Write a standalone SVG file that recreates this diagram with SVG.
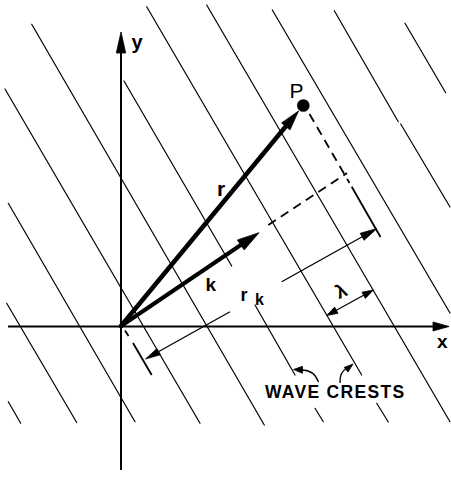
<svg xmlns="http://www.w3.org/2000/svg" width="451" height="477" viewBox="0 0 451 477">
<style>
.crest{stroke:#000;stroke-width:1.2;fill:none;stroke-linecap:round}
.axis{stroke:#000;stroke-width:2;fill:none}
.vec{stroke:#000;fill:none;stroke-linecap:round}
.dim{stroke:#000;stroke-width:1.3;fill:none}
.ext{stroke:#000;stroke-width:1.8;fill:none}
.dash{stroke:#000;stroke-width:1.8;fill:none;stroke-dasharray:9 6}
.head{fill:#000;stroke:#000;stroke-width:0.8;stroke-linejoin:round}
.lbl{font-family:"Liberation Sans",Arial,sans-serif;fill:#000}
.b{font-weight:bold}
</style>
<rect width="451" height="477" fill="#fff"/>
<g id="wave-crests">
<line class="crest" x1="8.3" y1="401.7" x2="20.7" y2="423.3"/>
<line class="crest" x1="6.7" y1="303.3" x2="76.7" y2="422.5"/>
<line class="crest" x1="8.3" y1="203.3" x2="135" y2="421.7"/>
<line class="crest" x1="5" y1="89" x2="200" y2="423.3"/>
<line class="crest" x1="31.7" y1="24.3" x2="264.3" y2="425"/>
<line class="crest" x1="124" y1="81" x2="231.7" y2="266"/>
<line class="crest" x1="255" y1="305" x2="295" y2="375"/>
<line class="crest" x1="315" y1="408.3" x2="323.3" y2="421.7"/>
<line class="crest" x1="146.7" y1="6.7" x2="361.7" y2="375"/>
<line class="crest" x1="376.7" y1="403.3" x2="388.3" y2="422"/>
<line class="crest" x1="206.7" y1="5" x2="450" y2="421.7"/>
<line class="crest" x1="272.3" y1="10" x2="450" y2="313"/>
<line class="crest" x1="334.3" y1="10.7" x2="398.3" y2="121.7"/>
<line class="crest" x1="400.7" y1="124" x2="450" y2="207"/>
<line class="crest" x1="405" y1="23.3" x2="445.7" y2="92.7"/>
</g>
<g id="axes">
<line class="axis" x1="8" y1="326.5" x2="436" y2="326.5"/>
<polygon class="head" points="449,326.5 433,322 433,331"/>
<line class="axis" x1="121" y1="470" x2="121" y2="50"/>
<polygon class="head" points="121,32 116.3,53 125.7,53"/>
<text class="lbl b" x="437" y="347.5" font-size="19">x</text>
<text class="lbl b" x="131.5" y="49" font-size="20">y</text>
</g>
<g id="connectors">
<g id="vector-r">
<line class="vec" x1="121" y1="326" x2="286.5" y2="125.5" stroke-width="4.5"/>
<polygon class="head" points="298.5,111 290,129.9 281.6,122.9"/>
</g>
<g id="vector-k">
<line class="vec" x1="121" y1="326" x2="241.5" y2="244.5" stroke-width="4"/>
<polygon class="head" points="259,232.7 244.2,250 237.4,240"/>
</g>
<g id="projection">
<line class="dash" x1="268.3" y1="225" x2="347" y2="173"/>
<line class="dash" x1="309.5" y1="114" x2="349.5" y2="183"/>
<line class="ext" x1="351.7" y1="186.7" x2="380.5" y2="237"/>
<line class="ext" x1="125" y1="330.5" x2="128.5" y2="336"/>
<line class="ext" x1="133" y1="343" x2="151.7" y2="375"/>
</g>
<g id="dim-rk">
<line class="dim" x1="157" y1="352.5" x2="230" y2="311.7"/>
<polygon class="head" points="145.5,359 160.3,354.8 156.9,348.6"/>
<line class="dim" x1="281.7" y1="281.7" x2="364" y2="235.7"/>
<polygon class="head" points="377,228.5 364.1,240.3 360.2,233.3"/>
</g>
<g id="dim-lambda">
<line class="dim" x1="335" y1="311" x2="365" y2="294.5"/>
<polygon class="head" points="373.3,290 365.4,298.4 362,292.2"/>
<polygon class="head" points="326.7,315.5 338,313.3 334.6,307.1"/>
</g>
<g id="leaders">
<path class="dim" d="M318.5,382 Q314,370 302,370" stroke-width="1.5"/>
<polygon class="head" points="293.5,369.5 302.5,366.3 302.5,373.3"/>
<path class="dim" d="M340,383 Q339.5,372 346.5,368.5" stroke-width="1.5"/>
<polygon class="head" points="353,364 348,372 344.2,367.4"/>
</g>
</g>
<g id="point-P">
<circle cx="303.3" cy="105.5" r="6.3" fill="#000"/>
<text class="lbl" x="289.5" y="98.3" font-size="21">P</text>
</g>
<g id="labels">
<text class="lbl b" x="217" y="195.5" font-size="21">r</text>
<text class="lbl b" x="205.5" y="290.5" font-size="19">k</text>
<text class="lbl b" x="240.5" y="300.5" font-size="18">r</text>
<text class="lbl b" x="255" y="304.5" font-size="16">k</text>
<text class="lbl b" x="341" y="297.5" font-size="19" text-anchor="middle" transform="rotate(-25 341 291)">λ</text>
<text class="lbl b" x="265" y="398" font-size="17.5" letter-spacing="1.3">WAVE CRESTS</text>
</g>
</svg>
